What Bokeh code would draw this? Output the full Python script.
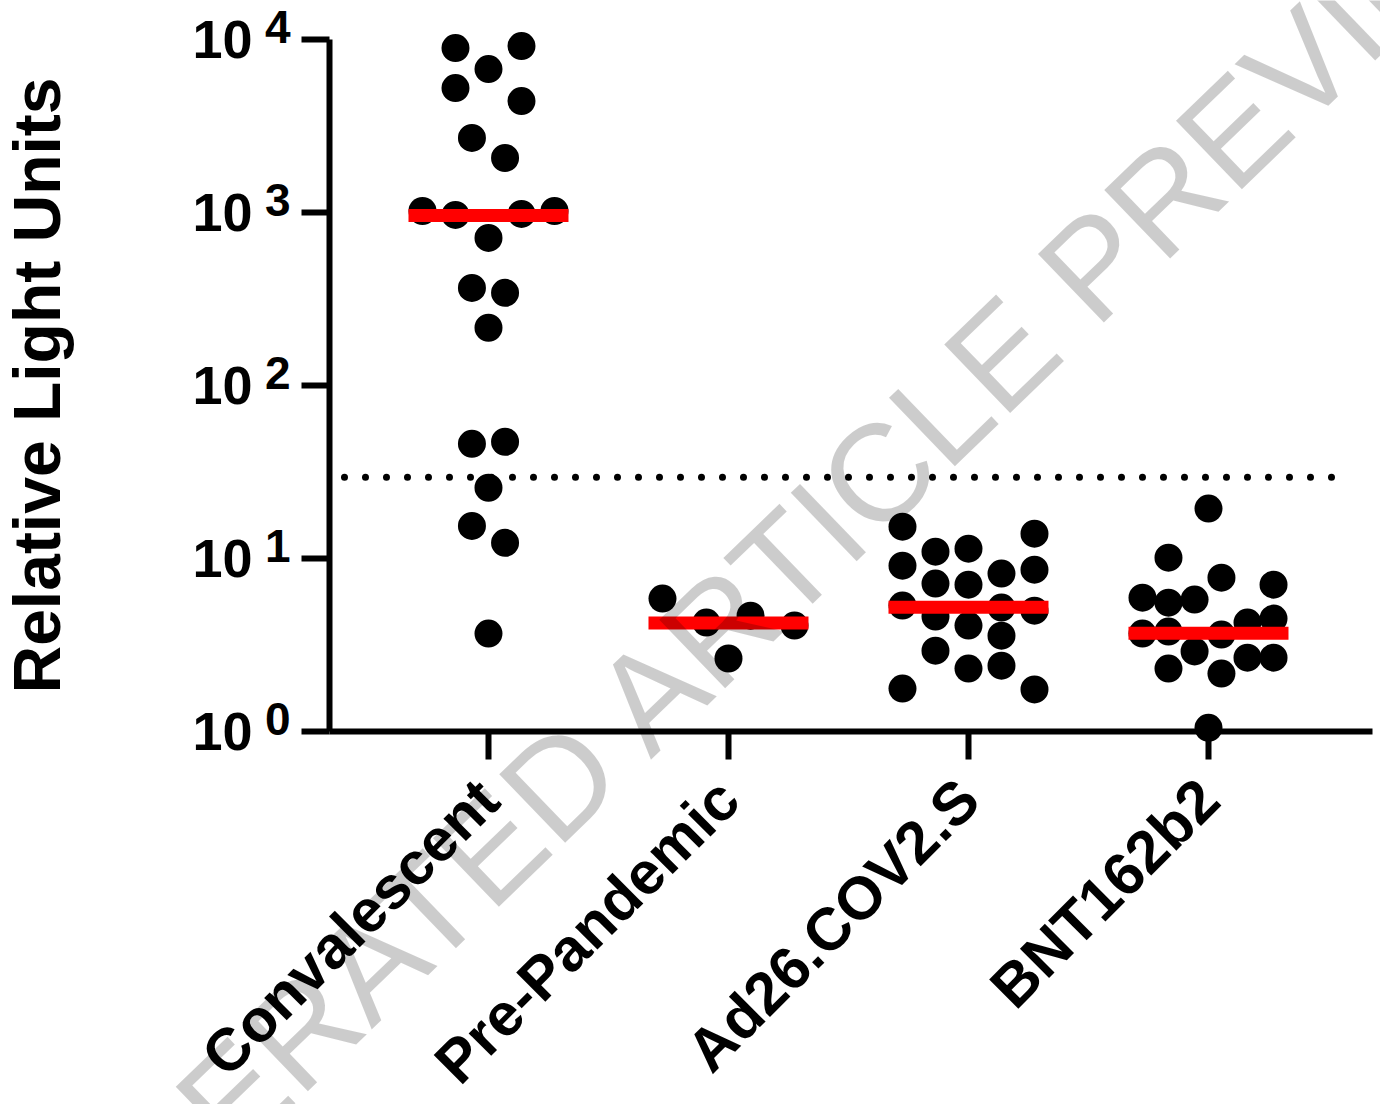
import math
from bokeh.plotting import figure
from bokeh.models import Range1d, FixedTicker, Label, ColumnDataSource, LogAxis, LogScale
from bokeh.embed import file_html
from bokeh.resources import INLINE

# ---------------- data ----------------
groups = ["Convalescent", "Pre-Pandemic", "Ad26.COV2.S", "BNT162b2"]

convalescent = [9120, 8870, 6710, 5210, 4385, 2685, 2057, 1016, 964, 977, 1016,
                710, 365, 342, 215, 47.2, 45.9, 25.6, 15.4, 12.3, 3.68]
convalescent_jitter = [0.1375, -0.1375, 0, -0.1375, 0.1375, -0.069, 0.069, -0.275,
                       -0.1375, 0.1375, 0.275, 0, -0.069, 0.069, 0, 0.069, -0.069,
                       0, -0.069, 0.069, 0]

pre_pandemic = [5.86, 4.26, 4.67, 4.09, 2.64]
pre_pandemic_jitter = [-0.275, -0.092, 0.092, 0.275, 0]

ad26 = [15.25, 9.08, 5.34, 1.77,
        10.94, 7.15, 4.61, 2.93,
        11.38, 7.05, 4.09, 2.31,
        8.17, 5.20, 3.58, 2.40,
        13.9, 8.61, 4.99, 1.75]
ad26_jitter = [-0.275] * 4 + [-0.1375] * 4 + [0.0] * 4 + [0.1375] * 4 + [0.275] * 4

bnt = [19.4, 1.05,
       10.1, 5.55, 3.78, 2.31,
       7.74, 3.63, 2.16,
       7.05, 4.49, 2.67,
       5.93, 3.68,
       5.78, 2.90,
       4.26, 2.67]
bnt_jitter = [0, 0,
              -0.1667, -0.1667, -0.1667, -0.1667,
              0.054, 0.054, 0.054,
              0.271, 0.271, 0.271,
              -0.275, -0.275,
              -0.058, -0.058,
              0.1625, 0.1625]

medians = [958, 4.23, 5.23, 3.70]
threshold = 29.4
y_ticks = [1, 10, 100, 1000, 10000]
y_tick_base = "10"
y_tick_exponents = ["0", "1", "2", "3", "4"]
y_title = "Relative Light Units"
watermark = "ACCELERATED ARTICLE PREVIEW"

# ---------------- layout ----------------
W, H = 1380, 1104
X_LO, X_HI = -0.6625, 3.683          # extent of the x axis (category units)
THR_LO, THR_HI = -0.60, 3.585        # extent of the dotted threshold line
X_START, X_END = -2.0333, 3.7167     # frame = whole canvas
LOG_TOP, LOG_BOT = 4.223, -2.1548
SUP_RAISE = 0.07                     # exponent raise, in decades

series = [convalescent, pre_pandemic, ad26, bnt]
jitters = [convalescent_jitter, pre_pandemic_jitter, ad26_jitter, bnt_jitter]

xs, ys = [], []
for i, (vals, jit) in enumerate(zip(series, jitters)):
    for v, j in zip(vals, jit):
        xs.append(i + j)
        ys.append(v)
pts = ColumnDataSource(dict(x=xs, y=ys))

half = 1.0 / 3.0
med = ColumnDataSource(dict(x0=[i - half for i in range(len(groups))],
                            x1=[i + half for i in range(len(groups))],
                            y=medians))

FONT = "Liberation Sans"

p = figure(width=W, height=H, output_backend="svg", toolbar_location=None,
           x_range=Range1d(X_START, X_END),
           y_range=Range1d(10 ** LOG_BOT, 10 ** LOG_TOP),
           y_axis_type="log",
           min_border=0, min_border_left=0, min_border_right=0,
           min_border_top=0, min_border_bottom=0,
           background_fill_color="white", border_fill_color="white")
p.outline_line_color = None
p.grid.visible = False
p.extra_y_ranges = {"sup": Range1d(10 ** (LOG_BOT - SUP_RAISE), 10 ** (LOG_TOP - SUP_RAISE))}
p.extra_y_scales = {"sup": LogScale()}

# threshold dotted line
p.line(x=[THR_LO, THR_HI], y=[threshold, threshold], line_color="black",
       line_width=7, line_dash="0 21", line_cap="round")

p.scatter("x", "y", source=pts, size=28, fill_color="black", line_color=None)
p.segment(x0="x0", x1="x1", y0="y", y1="y", source=med, line_color="#ff0000",
          line_width=13, line_cap="butt")

# y axis
ya = p.yaxis[0]
ya.fixed_location = X_LO
ya.ticker = FixedTicker(ticks=y_ticks)
ya.major_label_overrides = {t: y_tick_base for t in y_ticks}
ya.bounds = (y_ticks[0], y_ticks[-1])
ya.axis_line_width = 6
ya.major_tick_line_width = 6
ya.major_tick_out = 28
ya.major_tick_in = 0
ya.minor_tick_line_color = None
ya.major_label_standoff = 49
ya.major_label_text_font = FONT
ya.major_label_text_font_style = "bold"
ya.major_label_text_font_size = "54px"
ya.major_label_text_color = "black"
ya.axis_label = y_title
ya.axis_label_text_font = FONT
ya.axis_label_text_font_style = "bold"
ya.axis_label_text_font_size = "66px"
ya.axis_label_text_color = "black"
ya.axis_label_standoff = 115

# exponents of the y tick labels
sup = LogAxis(y_range_name="sup", fixed_location=X_LO,
              ticker=FixedTicker(ticks=y_ticks),
              major_label_overrides={t: e for t, e in zip(y_ticks, y_tick_exponents)},
              axis_line_color=None, major_tick_line_color=None,
              minor_tick_line_color=None, major_tick_out=0, major_tick_in=0,
              major_label_standoff=39,
              major_label_text_font=FONT, major_label_text_font_style="bold",
              major_label_text_font_size="46px", major_label_text_color="black")
p.add_layout(sup, "left")

# x axis
xa = p.xaxis[0]
xa.fixed_location = y_ticks[0]
xa.ticker = FixedTicker(ticks=list(range(len(groups))))
xa.major_label_overrides = {i: g for i, g in enumerate(groups)}
xa.bounds = (X_LO, X_HI)
xa.axis_line_width = 6
xa.major_tick_line_width = 6
xa.major_tick_out = 28
xa.major_tick_in = 0
xa.minor_tick_line_color = None
xa.major_label_orientation = math.pi / 4
xa.major_label_standoff = 30
xa.major_label_text_font = FONT
xa.major_label_text_font_style = "bold"
xa.major_label_text_font_size = "60px"
xa.major_label_text_color = "black"

# watermark overlay
p.add_layout(Label(x=0.871, y=10 ** 0.482, text=watermark, angle=44, angle_units="deg",
                   text_align="center", text_baseline="middle",
                   text_font=FONT, text_font_size="138px",
                   text_color="black", text_alpha=0.2))

open("out.html", "w").write(file_html(p, INLINE))
